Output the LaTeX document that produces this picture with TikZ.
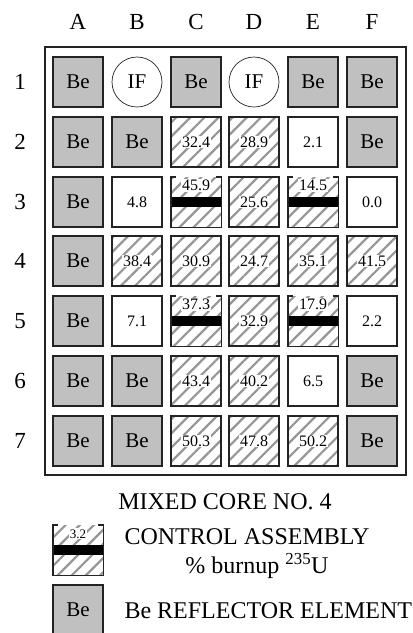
\documentclass[tikz,border=0pt]{standalone}
\usepackage{fontspec}
\setmainfont{Liberation Serif}
\usetikzlibrary{patterns.meta}
\definecolor{begray}{RGB}{192,192,192}
\definecolor{hatchgray}{RGB}{150,150,150}
\definecolor{edge}{RGB}{35,35,35}
\newcommand\fs[1]{\fontsize{#1}{#1}\selectfont}
\newcommand\ctrlbox[4][\fs{16}]{%
  \node[ctrlcell] (#2) at (#3) {};
  \fill[black] ([yshift=-20pt]#2.north west) rectangle ([yshift=-30pt]#2.north east);
  \draw[cellline] ([xshift=5pt]#2.north west) -- (#2.north west) -- (#2.south west)
     -- (#2.south east) -- (#2.north east) -- ([xshift=-5pt]#2.north east);
  \node[numlbl,font=#1] at ([yshift=-9pt]#2.north) {#4};
}
\begin{document}
\begin{tikzpicture}[x=1pt,y=-1pt,
  cellline/.style={draw=edge,line width=1.4pt},
  cellbase/.style={minimum width=50pt,minimum height=50pt,inner sep=0pt,anchor=center},
  hatch/.style={pattern={Lines[angle=45,distance=10pt,line width=2.2pt]},pattern color=hatchgray},
  becell/.style={cellbase,cellline,fill=begray,font=\fs{21}},
  fuelcell/.style={cellbase,cellline,fill=white,font=\fs{16}},
  hatchcell/.style={cellbase,cellline,hatch},
  ctrlcell/.style={cellbase,hatch},
  ifcell/.style={circle,draw=edge,line width=0.7pt,minimum size=50pt,inner sep=0pt,font=\fs{21}},
  numlbl/.style={fill=white,inner sep=1pt,font=\fs{16}},
  axlbl/.style={font=\fs{23}},
  legtext/.style={font=\fs{24},anchor=west}]
\useasboundingbox (0,0) rectangle (413,633);
\clip (0,0) rectangle (413,633);
% coordinates
\def\xA{78}\def\xB{137}\def\xC{196}\def\xD{254}\def\xE{313}\def\xF{372}
\def\yI{82}\def\yII{142}\def\yIII{202}\def\yIV{261}\def\yV{321}\def\yVI{381}\def\yVII{441}
% frame
\draw[draw=edge,line width=1.4pt] (45,47) rectangle (406,475);
% column labels
\node[axlbl] (lA) at (\xA,22) {A};
\node[axlbl] (lB) at (\xB,22) {B};
\node[axlbl] (lC) at (\xC,22) {C};
\node[axlbl] (lD) at (\xD,22) {D};
\node[axlbl] (lE) at (\xE,22) {E};
\node[axlbl] (lF) at (\xF,22) {F};
% row labels
\node[axlbl] (r1) at (20,\yI) {1};
\node[axlbl] (r2) at (20,\yII) {2};
\node[axlbl] (r3) at (20,\yIII) {3};
\node[axlbl] (r4) at (20,\yIV) {4};
\node[axlbl] (r5) at (20,\yV) {5};
\node[axlbl] (r6) at (20,\yVI) {6};
\node[axlbl] (r7) at (20,\yVII) {7};
% row 1
\node[becell] (A1) at (\xA,\yI) {Be};
\node[ifcell] (B1) at (\xB,\yI) {IF};
\node[becell] (C1) at (\xC,\yI) {Be};
\node[ifcell] (D1) at (\xD,\yI) {IF};
\node[becell] (E1) at (\xE,\yI) {Be};
\node[becell] (F1) at (\xF,\yI) {Be};
% row 2
\node[becell] (A2) at (\xA,\yII) {Be};
\node[becell] (B2) at (\xB,\yII) {Be};
\node[hatchcell] (C2) at (\xC,\yII) {}; \node[numlbl] at (C2) {32.4};
\node[hatchcell] (D2) at (\xD,\yII) {}; \node[numlbl] at (D2) {28.9};
\node[fuelcell] (E2) at (\xE,\yII) {2.1};
\node[becell] (F2) at (\xF,\yII) {Be};
% row 3
\node[becell] (A3) at (\xA,\yIII) {Be};
\node[fuelcell] (B3) at (\xB,\yIII) {4.8};
\ctrlbox{C3}{\xC,\yIII}{45.9}
\node[hatchcell] (D3) at (\xD,\yIII) {}; \node[numlbl] at (D3) {25.6};
\ctrlbox{E3}{\xE,\yIII}{14.5}
\node[fuelcell] (F3) at (\xF,\yIII) {0.0};
% row 4
\node[becell] (A4) at (\xA,\yIV) {Be};
\node[hatchcell] (B4) at (\xB,\yIV) {}; \node[numlbl] at (B4) {38.4};
\node[hatchcell] (C4) at (\xC,\yIV) {}; \node[numlbl] at (C4) {30.9};
\node[hatchcell] (D4) at (\xD,\yIV) {}; \node[numlbl] at (D4) {24.7};
\node[hatchcell] (E4) at (\xE,\yIV) {}; \node[numlbl] at (E4) {35.1};
\node[hatchcell] (F4) at (\xF,\yIV) {}; \node[numlbl] at (F4) {41.5};
% row 5
\node[becell] (A5) at (\xA,\yV) {Be};
\node[fuelcell] (B5) at (\xB,\yV) {7.1};
\ctrlbox{C5}{\xC,\yV}{37.3}
\node[hatchcell] (D5) at (\xD,\yV) {}; \node[numlbl] at (D5) {32.9};
\ctrlbox{E5}{\xE,\yV}{17.9}
\node[fuelcell] (F5) at (\xF,\yV) {2.2};
% row 6
\node[becell] (A6) at (\xA,\yVI) {Be};
\node[becell] (B6) at (\xB,\yVI) {Be};
\node[hatchcell] (C6) at (\xC,\yVI) {}; \node[numlbl] at (C6) {43.4};
\node[hatchcell] (D6) at (\xD,\yVI) {}; \node[numlbl] at (D6) {40.2};
\node[fuelcell] (E6) at (\xE,\yVI) {6.5};
\node[becell] (F6) at (\xF,\yVI) {Be};
% row 7
\node[becell] (A7) at (\xA,\yVII) {Be};
\node[becell] (B7) at (\xB,\yVII) {Be};
\node[hatchcell] (C7) at (\xC,\yVII) {}; \node[numlbl] at (C7) {50.3};
\node[hatchcell] (D7) at (\xD,\yVII) {}; \node[numlbl] at (D7) {47.8};
\node[hatchcell] (E7) at (\xE,\yVII) {}; \node[numlbl] at (E7) {50.2};
\node[becell] (F7) at (\xF,\yVII) {Be};
% title and legend
\node[font=\fs{24}] (title) at (225,502) {MIXED CORE NO. 4};
\ctrlbox[\fs{13}]{legctrl}{78,550}{3.2}
\node[legtext] (legctrltxt) at (121,537) {CONTROL ASSEMBLY};
\node[font=\fs{24}] (legburn) at (257,566) {\% burnup \textsuperscript{235}U};
\node[becell] (legbe) at (78,610) {Be};
\node[legtext] (legbetxt) at (121,611) {Be REFLECTOR ELEMENT};
\end{tikzpicture}
\end{document}
